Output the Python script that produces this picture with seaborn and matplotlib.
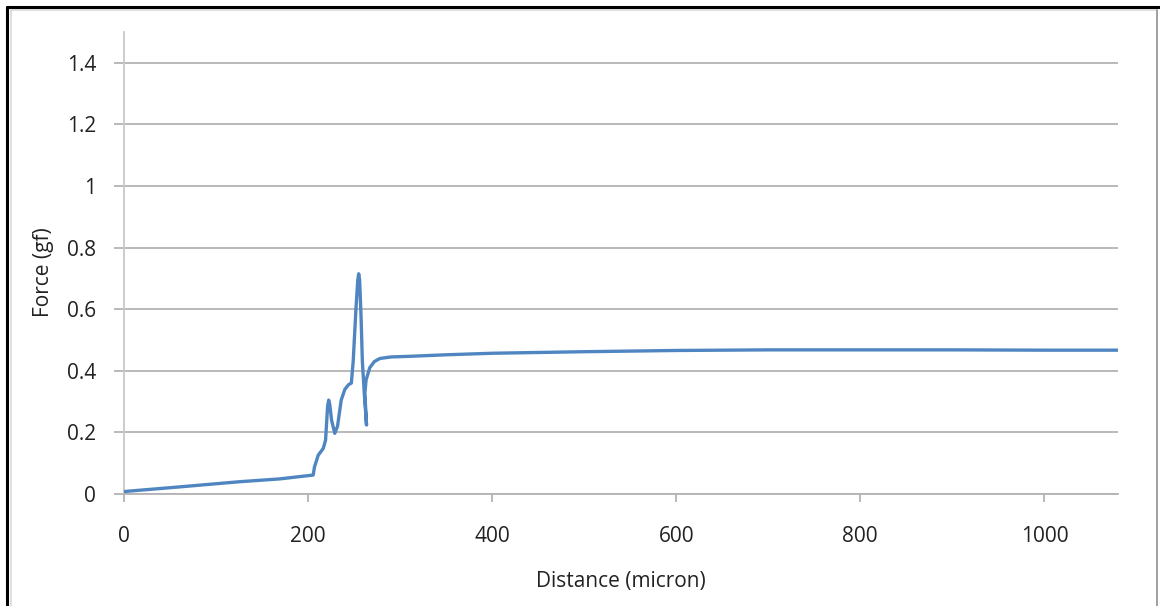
import matplotlib
matplotlib.use("Agg")
import matplotlib.pyplot as plt
from matplotlib.lines import Line2D
import pandas as pd
import seaborn as sns

# Force vs. distance trace (micron, gf)
distance = [0, 60, 126, 169, 205.5, 207, 211, 216.5, 219, 221.2, 222.4, 223.6,
            225.5, 229, 232, 236, 240, 244, 247, 249, 252, 254, 255, 256,
            257.5, 259, 261, 263.5, 261.7, 263, 267, 272, 278, 290, 310, 350,
            400, 500, 600, 700, 800, 900, 1000, 1080]
force = [0.008, 0.023, 0.040, 0.049, 0.0615, 0.088, 0.126, 0.148, 0.175,
         0.285, 0.305, 0.29, 0.24, 0.197, 0.22, 0.305, 0.34, 0.355, 0.36,
         0.43, 0.60, 0.695, 0.715, 0.695, 0.58, 0.43, 0.33, 0.224, 0.327,
         0.37, 0.41, 0.43, 0.44, 0.445, 0.447, 0.452, 0.457, 0.462, 0.466,
         0.468, 0.468, 0.468, 0.467, 0.467]

x_ticks = [0, 200, 400, 600, 800, 1000]
y_ticks = [0, 0.2, 0.4, 0.6, 0.8, 1.0, 1.2, 1.4]
y_tick_labels = ["0", "0.2", "0.4", "0.6", "0.8", "1", "1.2", "1.4"]

df = pd.DataFrame({"Distance": distance, "Force": force})

sns.set_theme(style="white")
plt.rcParams["font.family"] = ["Open Sans", "DejaVu Sans"]

fig = plt.figure(figsize=(11.6, 6.06), dpi=100)
ax = fig.add_axes([0.1069, 0.1848, 0.8569, 0.7624])

grid_color = "#b3b3b3"
for yv in y_ticks:
    ax.axhline(yv, color=grid_color, lw=1.3, zorder=1)

sns.lineplot(data=df, x="Distance", y="Force", sort=False, ax=ax,
             color="#4f86c2", lw=2.4, zorder=3)
ax.lines[-1].set_solid_joinstyle("round")

ax.set_xlim(0, 1080)
ax.set_ylim(0, 1.5)
ax.set_xticks(x_ticks)
ax.set_xticklabels([str(v) for v in x_ticks])
ax.set_yticks(y_ticks)
ax.set_yticklabels(y_tick_labels)

for side in ["top", "right"]:
    ax.spines[side].set_visible(False)
ax.spines["left"].set_color("#c8c8c8")
ax.spines["left"].set_linewidth(1.3)
ax.spines["bottom"].set_color(grid_color)
ax.spines["bottom"].set_linewidth(1.3)

ax.tick_params(axis="y", length=7, width=1.3, color=grid_color, pad=13,
               labelsize=15, labelcolor="#222222", left=True)
ax.tick_params(axis="x", length=6, width=1.3, color=grid_color, pad=17,
               labelsize=15, labelcolor="#222222", bottom=True)

ax.set_xlabel("Distance (micron)", fontsize=15, color="#222222", labelpad=17)
ax.set_ylabel("Force (gf)", fontsize=15, color="#222222")
ax.yaxis.set_label_coords(-0.0704, 0.48)

# Outer frame around the whole figure
W, H = 1160, 606
fig.add_artist(Line2D([7 / W, 7 / W], [0, 1 - 7 / H], transform=fig.transFigure,
                      color="black", lw=2.2))
fig.add_artist(Line2D([7 / W, 1], [1 - 7 / H, 1 - 7 / H], transform=fig.transFigure,
                      color="black", lw=2.2))
fig.add_artist(Line2D([11 / W, 11 / W], [0, 1 - 10 / H], transform=fig.transFigure,
                      color="#d9d9d9", lw=1.2))
fig.add_artist(Line2D([11 / W, 1157 / W], [1 - 10 / H, 1 - 10 / H], transform=fig.transFigure,
                      color="#d9d9d9", lw=1.2))
fig.add_artist(Line2D([1157 / W, 1157 / W], [0, 1 - 10 / H], transform=fig.transFigure,
                      color="#a0a0a0", lw=1.4))

fig.savefig("out.png", dpi=100)
